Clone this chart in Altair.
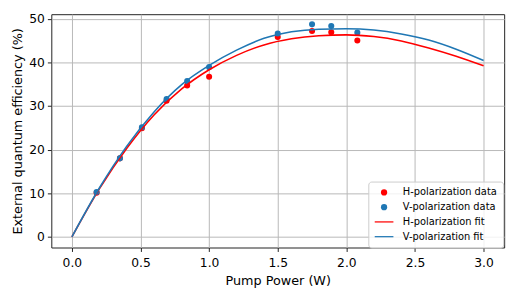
import altair as alt
import pandas as pd

# measured data
power = [0.18, 0.35, 0.51, 0.69, 0.84, 1.00, 1.50, 1.75, 1.89, 2.08]
h_data = [10.1, 18.0, 24.9, 31.2, 34.7, 36.7, 45.8, 47.2, 46.9, 45.0]
v_data = [10.3, 18.0, 25.1, 31.6, 35.7, 38.9, 46.6, 48.7, 48.3, 46.8]

# fit curves
fit_x = [0.0, 0.2, 0.4, 0.6, 0.8, 1.0, 1.2, 1.4, 1.6, 1.8, 2.0, 2.2, 2.4, 2.6, 2.8, 3.0]
h_fit = [0.0, 11.0, 20.3, 28.0, 33.9, 38.3, 41.6, 44.0, 45.4, 46.1, 46.3, 45.9, 44.9, 43.3, 41.4, 39.2]
v_fit = [0.0, 11.2, 20.8, 28.7, 34.9, 39.3, 42.8, 45.5, 47.0, 47.6, 47.7, 47.4, 46.5, 45.1, 43.0, 40.4]

labels = ["H-polarization data", "V-polarization data", "H-polarization fit", "V-polarization fit"]
colors = ["#ff0000", "#1f77b4", "#ff0000", "#1f77b4"]
line_path = "M-3,-0.2H3V0.2H-3Z"
shapes = ["circle", "circle", line_path, line_path]

pts = pd.DataFrame({
    "x": power + power,
    "y": h_data + v_data,
    "series": [labels[0]] * len(power) + [labels[1]] * len(power),
})
fits = pd.DataFrame({
    "x": fit_x + fit_x,
    "y": h_fit + v_fit,
    "series": [labels[2]] * len(fit_x) + [labels[3]] * len(fit_x),
})

xs = alt.Scale(domain=[-0.15, 3.15], nice=False, zero=False)
ys = alt.Scale(domain=[-2.43, 51.03], nice=False, zero=False)

x_axis = alt.Axis(values=[0, 0.5, 1.0, 1.5, 2.0, 2.5, 3.0], format=".1f",
                  title="Pump Power (W)", labelPadding=5, titlePadding=6)
y_axis = alt.Axis(values=[0, 10, 20, 30, 40, 50], format="d",
                  title="External quantum efficiency (%)", labelPadding=3, titlePadding=4)

leg = alt.Legend(title=None, orient="none", legendX=322, legendY=170)

points = alt.Chart(pts).mark_point(filled=True, size=38, opacity=1).encode(
    x=alt.X("x:Q", scale=xs, axis=x_axis),
    y=alt.Y("y:Q", scale=ys, axis=y_axis),
    color=alt.Color("series:N", scale=alt.Scale(domain=labels, range=colors), legend=leg),
    shape=alt.Shape("series:N", scale=alt.Scale(domain=labels, range=shapes), legend=leg),
    order=alt.Order("series:N"),
)

line_h = alt.Chart(fits[fits.series == labels[2]]).mark_line(
    color="#ff0000", strokeWidth=1.6, interpolate="monotone").encode(
    x=alt.X("x:Q", scale=xs), y=alt.Y("y:Q", scale=ys))
line_v = alt.Chart(fits[fits.series == labels[3]]).mark_line(
    color="#1f77b4", strokeWidth=1.6, interpolate="monotone").encode(
    x=alt.X("x:Q", scale=xs), y=alt.Y("y:Q", scale=ys))

chart = alt.layer(points, line_h, line_v).properties(
    width=460, height=237,
    autosize=alt.AutoSizeParams(type="none"),
    padding={"left": 44, "top": 4, "right": 11, "bottom": 50},
).configure_view(
    stroke="#222222", strokeWidth=1
).configure_axis(
    labelFont="DejaVu Sans", titleFont="DejaVu Sans",
    labelFontSize=12.5, titleFontSize=13, titleFontWeight="normal",
    labelColor="#000000", titleColor="#000000",
    domain=False, grid=True, gridColor="#b8b8b8", gridWidth=1,
    tickColor="#222222", tickSize=4, tickWidth=1,
).configure_legend(
    labelFont="DejaVu Sans", labelFontSize=10, labelColor="#000000",
    symbolSize=40, symbolOffset=5, labelOffset=14,
    padding=6, rowPadding=5,
    strokeColor="#cccccc", fillColor="rgba(255,255,255,0.8)", cornerRadius=3,
)

chart.save("out.html", embed_options={"renderer": "svg", "actions": False})
